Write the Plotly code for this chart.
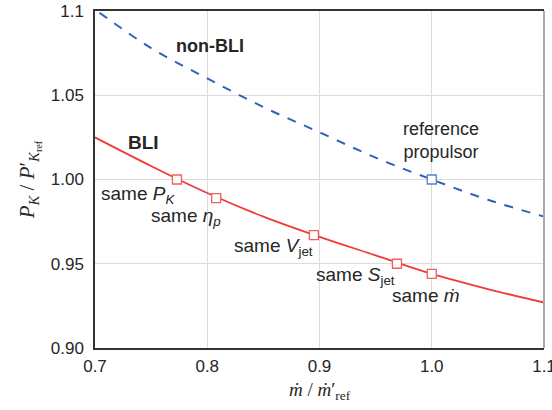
import plotly.graph_objects as go

# Non-BLI curve
x_nonbli = [0.704, 0.75, 0.80, 0.85, 0.90, 0.95, 1.00, 1.05, 1.10]
y_nonbli = [1.099, 1.078, 1.060, 1.043, 1.028, 1.013, 1.000, 0.988, 0.978]

# BLI curve
x_bli = [0.70, 0.75, 0.80, 0.85, 0.90, 0.95, 1.00, 1.05, 1.10]
y_bli = [1.025, 1.008, 0.992, 0.978, 0.966, 0.955, 0.944, 0.935, 0.927]

# Markers on BLI curve
x_bli_pts = [0.773, 0.808, 0.895, 0.969, 1.000]
y_bli_pts = [1.000, 0.989, 0.967, 0.950, 0.944]
bli_labels = ["same <i>P</i><sub><i>K</i></sub>", "same <i>η</i><sub><i>p</i></sub>",
              "same <i>V</i><sub>jet</sub>", "same <i>S</i><sub>jet</sub>",
              "same <i>ṁ</i>"]
# label anchor positions (data coords)
lab_x = [0.738, 0.781, 0.859, 0.932, 0.995]
lab_y = [0.9910, 0.9775, 0.9600, 0.9425, 0.9310]

# Reference propulsor marker
x_ref = [1.0]
y_ref = [1.0]

x_ticks = [0.7, 0.8, 0.9, 1.0, 1.1]
x_ticktext = ["0.7", "0.8", "0.9", "1.0", "1.1"]
y_ticks = [0.90, 0.95, 1.00, 1.05, 1.10]
y_ticktext = ["0.90", "0.95", "1.00", "1.05", "1.1"]

RED = "#f03a3a"
BLUE = "#2f62b8"
SANS = "Liberation Sans, Arial, sans-serif"
SERIF = "Liberation Serif, DejaVu Serif, serif"
TXT = "#262626"

fig = go.Figure()
fig.add_trace(go.Scatter(x=x_nonbli, y=y_nonbli, mode="lines", line=dict(color=BLUE, width=2, dash="dash", shape="spline"), hoverinfo="skip"))
fig.add_trace(go.Scatter(x=x_bli, y=y_bli, mode="lines", line=dict(color=RED, width=1.8, shape="spline"), hoverinfo="skip"))
fig.add_trace(go.Scatter(x=x_bli_pts, y=y_bli_pts, mode="markers",
                         marker=dict(symbol="square", size=9, color="white", line=dict(color="#f06060", width=1.3))))
fig.add_trace(go.Scatter(x=x_ref, y=y_ref, mode="markers",
                         marker=dict(symbol="square", size=9, color="white", line=dict(color="#5a80c8", width=1.3))))

for lx, ly, txt in zip(lab_x, lab_y, bli_labels):
    fig.add_annotation(x=lx, y=ly, text=txt, showarrow=False, xref="x", yref="y",
                       font=dict(family=SANS, size=19, color=TXT))

fig.add_annotation(x=0.8025, y=1.079, text="<b>non-BLI</b>", showarrow=False,
                   font=dict(family=SANS, size=18, color=TXT))
fig.add_annotation(x=0.7436, y=1.022, text="<b>BLI</b>", showarrow=False,
                   font=dict(family=SANS, size=19, color=TXT))
fig.add_annotation(x=1.008, y=1.023, text="reference<br>propulsor", showarrow=False,
                   font=dict(family=SANS, size=18, color=TXT))

fig.add_shape(type="line", xref="paper", yref="paper", x0=1, x1=1, y0=0, y1=1,
              line=dict(color="#aaaaaa", width=2))

fig.update_layout(
    width=552, height=410,
    margin=dict(l=95, r=8, t=11, b=62, autoexpand=False),
    paper_bgcolor="white", plot_bgcolor="white",
    showlegend=False,
    xaxis=dict(range=[0.7, 1.1], tickvals=x_ticks, ticktext=x_ticktext,
               showgrid=True, gridcolor="#dcdcdc", gridwidth=1,
               showline=True, linecolor="#333", linewidth=1.5, mirror=True,
               ticks="", zeroline=False, ticklabelstandoff=2,
               ticklabeloverflow="allow", automargin=False,
               tickfont=dict(family=SANS, size=17, color=TXT),
               title=dict(text="<i>ṁ</i> / <i>ṁ</i>′<sub>ref</sub>", standoff=8,
                          font=dict(family=SERIF, size=19, color=TXT))),
    yaxis=dict(range=[0.90, 1.10], tickvals=y_ticks, ticktext=y_ticktext,
               showgrid=True, gridcolor="#dcdcdc", gridwidth=1,
               showline=True, linecolor="#333", linewidth=1.5,
               ticks="", zeroline=False, ticklabelstandoff=6,
               ticklabeloverflow="allow", automargin=False,
               tickfont=dict(family=SANS, size=17, color=TXT),
               title=dict(text="<i>P</i><sub><i>K</i></sub> / <i>P</i>′<sub><i>K</i><sub>ref</sub></sub>", standoff=10,
                          font=dict(family=SERIF, size=21, color=TXT))),
)

fig.write_html("out.html")
